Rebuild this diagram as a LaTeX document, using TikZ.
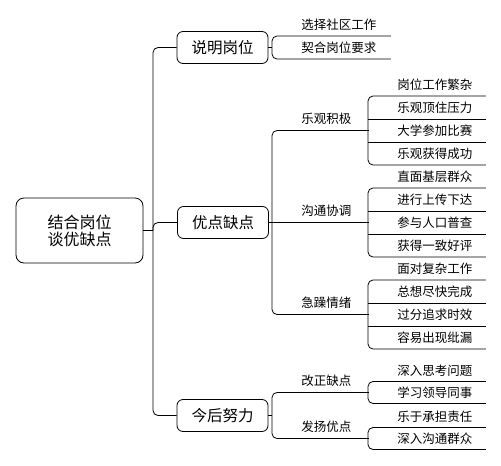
\documentclass[tikz,border=0pt]{standalone}
\usepackage{fontspec}
\setmainfont{Noto Sans CJK SC}
\usetikzlibrary{positioning}

\begin{document}
\begin{tikzpicture}[x=1pt, y=-1pt, line width=0.8pt,
  root/.style={draw, rounded corners=8pt, minimum width=127pt, minimum height=65pt,
               align=center, font=\fontsize{16}{17}\selectfont},
  topic/.style={draw, rounded corners=6pt, minimum width=91pt, minimum height=32pt,
                font=\fontsize{15.5}{17}\selectfont},
  leaf/.style={anchor=south west, inner sep=0pt, minimum height=21pt, text width=117pt,
               align=left, execute at begin node=\hspace*{29pt},
               font=\fontsize{12.5}{14}\selectfont},
  sub/.style={leaf, text width=96pt, minimum height=22pt},
  link/.style={rounded corners=5pt}
]
\useasboundingbox (0,0) rectangle (501,466);

\node[root] (root) at (79.5,230.5) {结合岗位\\谈优缺点};

\node[topic] (shuoming) at (222.5,47.5) {说明岗位};
\node[topic] (youdian) at (223,222.5) {优点缺点};
\node[topic] (jinhou) at (222.5,415.5) {今后努力};

% spine
\coordinate (spine) at (153,230.5);
\draw (root.east) -- (spine);
\draw[link] (spine) |- (shuoming.west);
\draw[link] (spine) |- (youdian.west);
\draw[link] (spine) |- (jinhou.west);

% shuoming
\node[leaf, text width=118pt] (xuanze) at (272,36) {选择社区工作};
\node[leaf, text width=118pt] (qihe) at (272,59) {契合岗位要求};
\draw[link] (xuanze.south east) -- (xuanze.south west) -- (qihe.south west) -- (qihe.south east);
\draw (shuoming.east) -- (xuanze.south west |- shuoming.east);

% youdian
\node[sub] (leguan) at (272,130.5) {乐观积极};
\node[sub] (goutong) at (272,222.5) {沟通协调};
\node[sub] (jizao) at (272,314.5) {急躁情绪};
\draw[link] (leguan.south east) -- (leguan.south west) -- (jizao.south west) -- (jizao.south east);
\draw (goutong.south west) -- (goutong.south east);
\draw (youdian.east) -- (goutong.south west |- youdian.east);

\node[leaf] (leguan1) at (368,96) {岗位工作繁杂};
\node[leaf] (leguan2) at (368,119) {乐观顶住压力};
\node[leaf] (leguan3) at (368,142) {大学参加比赛};
\node[leaf] (leguan4) at (368,165) {乐观获得成功};
\draw[link] (leguan1.south east) -- (leguan1.south west) -- (leguan4.south west) -- (leguan4.south east);
\draw (leguan2.south west) -- (leguan2.south east);
\draw (leguan3.south west) -- (leguan3.south east);
\draw (leguan.south east) -- (leguan1.south west |- leguan.south east);

\node[leaf] (goutong1) at (368,188) {直面基层群众};
\node[leaf] (goutong2) at (368,211) {进行上传下达};
\node[leaf] (goutong3) at (368,234) {参与人口普查};
\node[leaf] (goutong4) at (368,257) {获得一致好评};
\draw[link] (goutong1.south east) -- (goutong1.south west) -- (goutong4.south west) -- (goutong4.south east);
\draw (goutong2.south west) -- (goutong2.south east);
\draw (goutong3.south west) -- (goutong3.south east);
\draw (goutong.south east) -- (goutong1.south west |- goutong.south east);

\node[leaf] (jizao1) at (368,280) {面对复杂工作};
\node[leaf] (jizao2) at (368,303) {总想尽快完成};
\node[leaf] (jizao3) at (368,326) {过分追求时效};
\node[leaf] (jizao4) at (368,349) {容易出现纰漏};
\draw[link] (jizao1.south east) -- (jizao1.south west) -- (jizao4.south west) -- (jizao4.south east);
\draw (jizao2.south west) -- (jizao2.south east);
\draw (jizao3.south west) -- (jizao3.south east);
\draw (jizao.south east) -- (jizao1.south west |- jizao.south east);

% jinhou
\node[sub] (gaizheng) at (272,392.5) {改正缺点};
\node[sub] (fayang) at (272,438.5) {发扬优点};
\draw[link] (gaizheng.south east) -- (gaizheng.south west) -- (fayang.south west) -- (fayang.south east);
\draw (jinhou.east) -- (gaizheng.south west |- jinhou.east);

\node[leaf] (gaizheng1) at (368,381.5) {深入思考问题};
\node[leaf] (gaizheng2) at (368,403.5) {学习领导同事};
\draw[link] (gaizheng1.south east) -- (gaizheng1.south west) -- (gaizheng2.south west) -- (gaizheng2.south east);
\draw (gaizheng.south east) -- (gaizheng1.south west |- gaizheng.south east);

\node[leaf] (fayang1) at (368,427.5) {乐于承担责任};
\node[leaf] (fayang2) at (368,449.5) {深入沟通群众};
\draw[link] (fayang1.south east) -- (fayang1.south west) -- (fayang2.south west) -- (fayang2.south east);
\draw (fayang.south east) -- (fayang1.south west |- fayang.south east);
\end{tikzpicture}
\end{document}
